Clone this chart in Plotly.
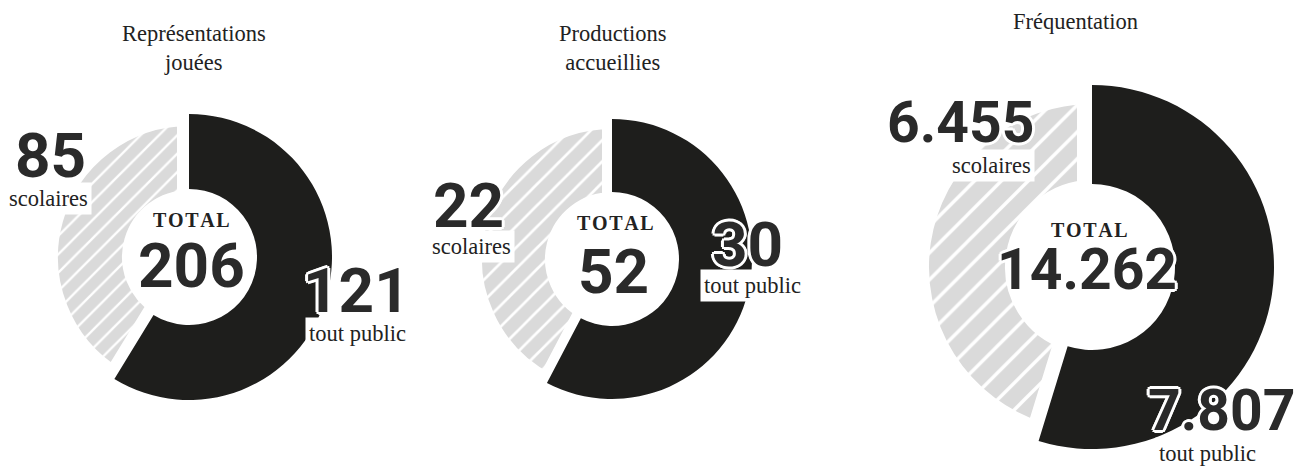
import plotly.graph_objects as go

# ---- data ----
titles = ["Représentations<br>jouées", "Productions<br>accueillies", "Fréquentation"]
tout_public = [121, 30, 7807]
scolaires = [85, 22, 6455]
label_tp = "tout public"
label_sc = "scolaires"
label_total = "T\u200aO\u200aT\u200aA\u200aL"

W, H = 1299, 469
BLACK = "#1e1e1c"
GREY = "#dadada"
NUM_COLOR = "#2a2a2a"
TXT_COLOR = "#222222"

# ---- layout geometry (pixels) ----
geo = [
    dict(cx=189, cy=257, R=143, hole=68, rg=143, ghole=55, gap=12, psize=13, nsize=62,
         title=(194, 48), n_sc=(50, 155), l_sc=(48, 198), tot=(191, 220), n_tot=(191, 265),
         n_tp=(356, 290), l_tp=(357, 333)),
    dict(cx=612, cy=259, R=140, hole=67, rg=140, ghole=57, gap=10, psize=15, nsize=62,
         title=(613, 48), n_sc=(468, 205), l_sc=(471, 246), tot=(615, 223), n_tot=(613, 271),
         n_tp=(748, 244), l_tp=(752, 285)),
    dict(cx=1092, cy=267, R=182, hole=83, rg=178, ghole=72, gap=15, psize=19, nsize=57,
         title=(1075, 22), n_sc=(960, 122), l_sc=(991, 165), tot=(1089, 230), n_tot=(1087, 269),
         n_tp=(1221, 410), l_tp=(1207, 453)),
]


def px(x):
    return x / W


def py(y):
    return 1 - y / H


def dom(cx, cy, r):
    return dict(x=[px(cx - r), px(cx + r)], y=[py(cy + r), py(cy - r)])


def fmt(v):
    return f"{v:,}".replace(",", ".")


SHADOW = ", ".join(
    f"{a}px {b}px 0 #ffffff" for a, b in
    [(3, 0), (-3, 0), (0, 3), (0, -3), (2, 2), (-2, -2), (2, -2), (-2, 2)]
)

fig = go.Figure()
annotations = []

for i, g in enumerate(geo):
    vals = [tout_public[i], scolaires[i]]
    # grey hatched slice (drawn first), thick white border creates the gap
    fig.add_trace(go.Pie(
        values=vals, labels=[label_tp, label_sc], sort=False, direction="clockwise",
        rotation=0, hole=g["ghole"] / g["rg"], domain=dom(g["cx"], g["cy"], g["rg"]),
        textinfo="none", hoverinfo="skip", showlegend=False,
        marker=dict(
            colors=["rgba(0,0,0,0)", GREY],
            line=dict(color="white", width=[0, 2 * g["gap"]]),
            pattern=dict(shape=["", "/"], bgcolor=["rgba(0,0,0,0)", GREY],
                         fgcolor=["rgba(0,0,0,0)", "#ffffff"], size=g["psize"],
                         solidity=0.18, fillmode="replace"),
        ),
    ))
    # black slice on top
    fig.add_trace(go.Pie(
        values=vals, labels=[label_tp, label_sc], sort=False, direction="clockwise",
        rotation=0, hole=g["hole"] / g["R"], domain=dom(g["cx"], g["cy"], g["R"]),
        textinfo="none", hoverinfo="skip", showlegend=False,
        marker=dict(colors=[BLACK, "rgba(0,0,0,0)"], line=dict(color="white", width=0)),
    ))

    def ann(text, pos, font, **kw):
        annotations.append(dict(
            text=text, x=px(pos[0]), y=py(pos[1]), xref="paper", yref="paper",
            xanchor="center", yanchor="middle", showarrow=False, font=font, **kw))

    serif = dict(family="Liberation Serif, Times New Roman, serif", size=22.5, color=TXT_COLOR)
    num = dict(family="Roboto, Arial, sans-serif", size=g["nsize"], color=NUM_COLOR, weight=700,
               shadow=SHADOW)

    ann(titles[i], g["title"], serif)
    ann(fmt(scolaires[i]), g["n_sc"], num)
    ann(label_sc, g["l_sc"], serif, bgcolor="white", borderpad=3)
    ann(fmt(tout_public[i]), g["n_tp"], num)
    ann(label_tp, g["l_tp"], serif, bgcolor="white", borderpad=3)
    ann(label_total, g["tot"], dict(family="Liberation Serif, Times New Roman, serif", size=20,
                                    color=TXT_COLOR, weight=700))
    ann(fmt(tout_public[i] + scolaires[i]), g["n_tot"], num)

fig.update_layout(
    width=W, height=H, margin=dict(l=0, r=0, t=0, b=0),
    paper_bgcolor="white", plot_bgcolor="white",
    annotations=annotations, showlegend=False,
)

fig.write_html(
    "out.html",
    config={"displayModeBar": False},
    post_script="document.body.style.margin='0';document.body.style.overflow='hidden';",
)
